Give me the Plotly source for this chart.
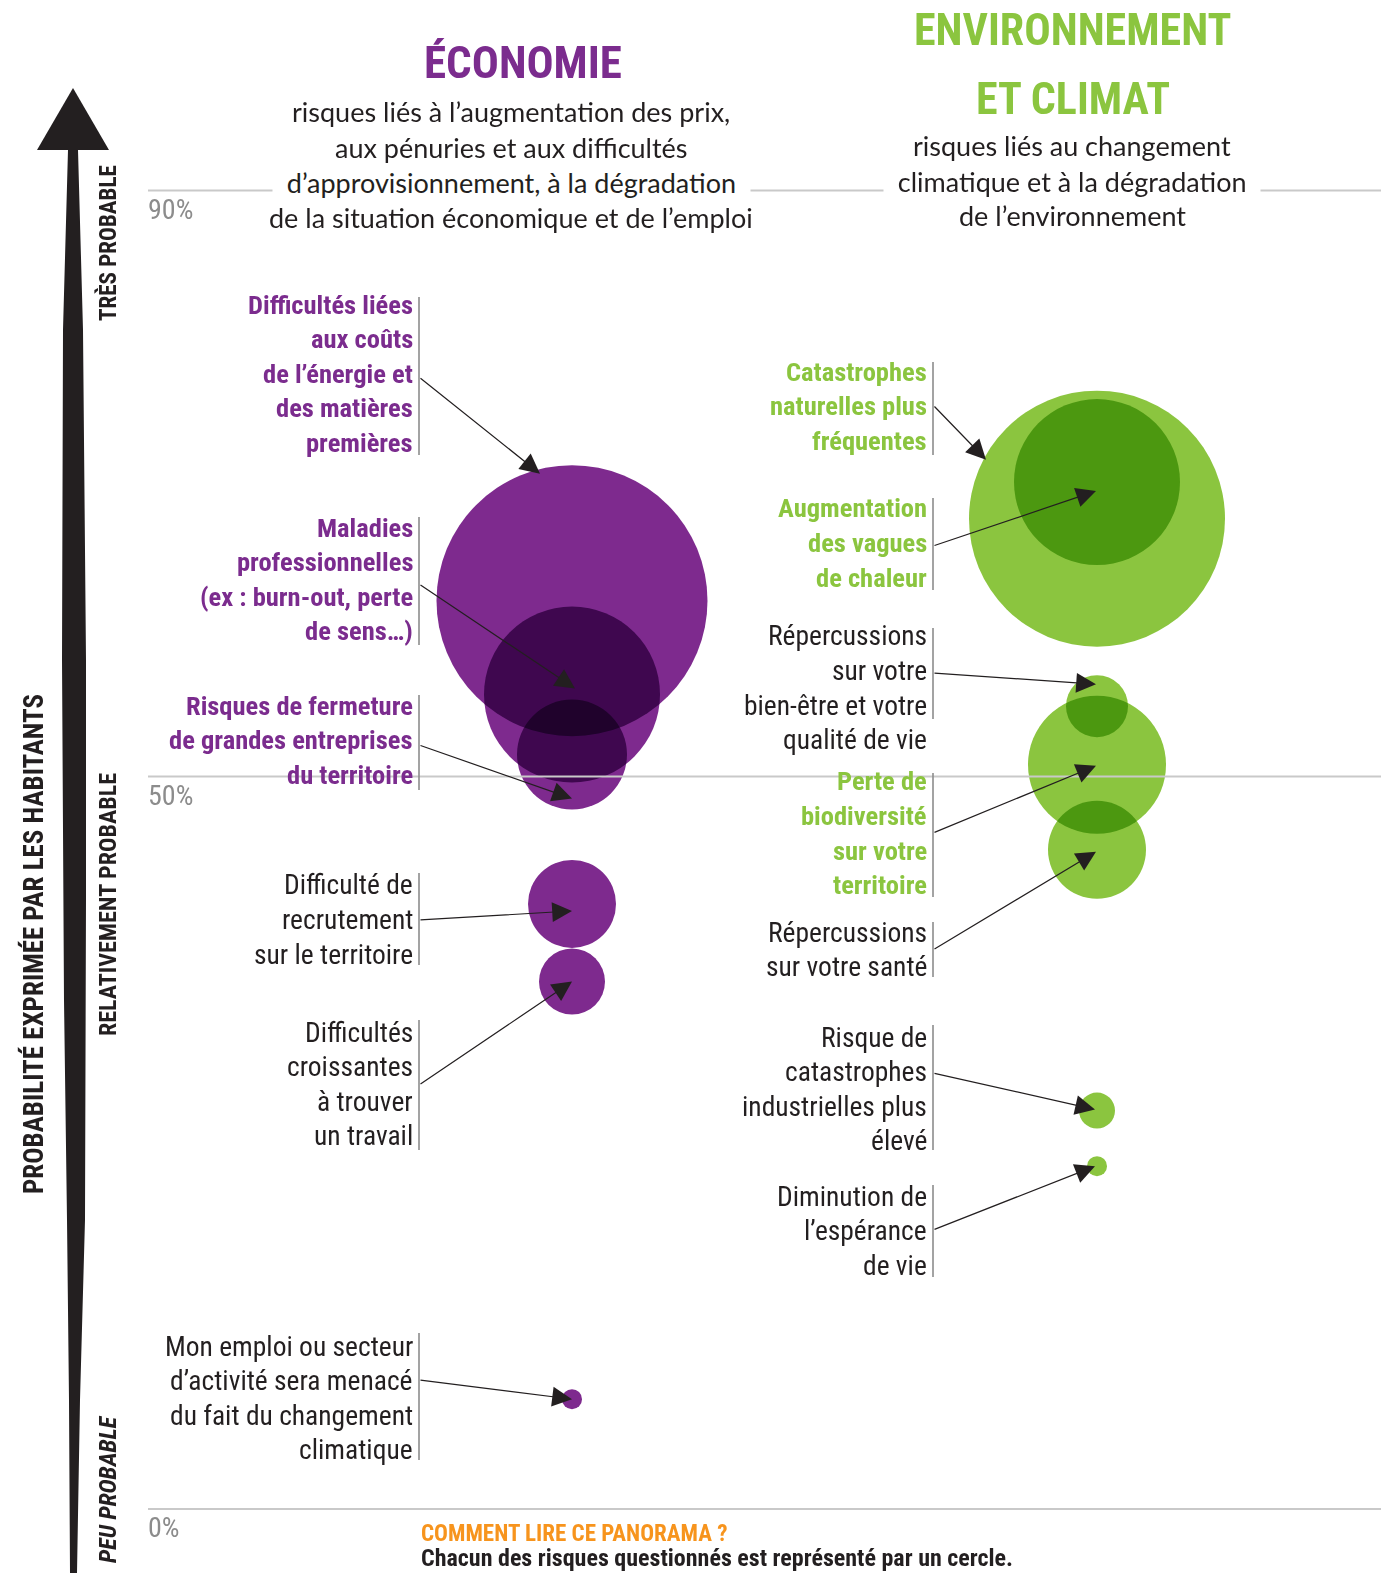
import plotly.graph_objects as go

# ---------------------------------------------------------------------------
# Données : probabilité exprimée (%) et poids (diamètre du cercle)
# ---------------------------------------------------------------------------
risques_eco = [
    "Difficultés liées aux coûts de l’énergie et des matières premières",
    "Maladies professionnelles (ex : burn-out, perte de sens…)",
    "Risques de fermeture de grandes entreprises du territoire",
    "Difficulté de recrutement sur le territoire",
    "Difficultés croissantes à trouver un travail",
    "Mon emploi ou secteur d’activité sera menacé du fait du changement climatique",
]
proba_eco = [62.0, 55.6, 51.5, 41.3, 36.0, 7.5]
poids_eco = [271, 176, 110, 88, 66, 20]

risques_env = [
    "Catastrophes naturelles plus fréquentes",
    "Augmentation des vagues de chaleur",
    "Répercussions sur votre bien-être et votre qualité de vie",
    "Perte de biodiversité sur votre territoire",
    "Répercussions sur votre santé",
    "Risque de catastrophes industrielles plus élevé",
    "Diminution de l’espérance de vie",
]
proba_env = [67.6, 70.1, 54.8, 50.8, 45.0, 27.2, 23.4]
poids_env = [256, 166, 62, 138, 98, 36, 20]

paliers = [0, 50, 90]
paliers_txt = ["0%", "50%", "90%"]

# ---------------------------------------------------------------------------
# Mise en page
# ---------------------------------------------------------------------------
W, H = 1385, 1573
X_RANGE = [-572 / 525, (W - 572) / 525]
Y_RANGE = [(1509 - H) / 14.65, 1509 / 14.65]

VIOLET = "#7E2A8E"
VIOLET_TXT = "#7B2C8E"
VERT = "#8BC53F"
NOIR = "#231F20"
GRIS = "#8C8C8C"
GRILLE = "#C9C9C9"
ORANGE = "#F7941D"

COND = "'Liberation Sans Narrow', 'Roboto Condensed', 'DejaVu Sans Condensed', 'Arial Narrow', sans-serif"
SANS = "Lato, 'Open Sans', sans-serif"
NBSP = "\u00a0"


def px(xp):
    return xp / W


def py(yp):
    return 1 - yp / H


def data_x(xp):
    return X_RANGE[0] + xp / W * (X_RANGE[1] - X_RANGE[0])


def data_y(yp):
    return Y_RANGE[1] - yp / H * (Y_RANGE[1] - Y_RANGE[0])


def decal_x(d):
    return d * (X_RANGE[1] - X_RANGE[0]) / W


def decal_y(d):
    return -d * (Y_RANGE[1] - Y_RANGE[0]) / H


# libellés : lignes, mise en avant, 1re ligne (px), barre (px), départ flèche (px),
# décalage de la pointe par rapport au centre du cercle (px)
lib_eco = [
    (["Difficultés liées", "aux coûts", "de l’énergie et", "des matières", "premières"], True, 304, (297, 455), 377, (-32, -127)),
    (["Maladies", "professionnelles", "(ex : burn-out, perte", "de sens…)"], True, 527, (517, 645), 584, (3, -6)),
    (["Risques de fermeture", "de grandes entreprises", "du territoire"], True, 705, (695, 790), 745, (0, 44)),
    (["Difficulté de", "recrutement", "sur le territoire"], False, 885, (873, 965), 920, (0, 7)),
    (["Difficultés", "croissantes", "à trouver", "un travail"], False, 1032, (1020, 1150), 1085, (0, 0)),
    (["Mon emploi ou secteur", "d’activité sera menacé", "du fait du changement", "climatique"], False, 1346, (1333, 1460), 1380, (0, 0)),
]
lib_env = [
    (["Catastrophes", "naturelles plus", "fréquentes"], True, 371, (362, 455), 405, (-111, -59)),
    (["Augmentation", "des vagues", "de chaleur"], True, 508, (498, 590), 546, (-1, 9)),
    (["Répercussions", "sur votre", "bien-être et votre", "qualité de vie"], False, 636, (628, 719), 673, (-1, -22)),
    (["Perte de", "biodiversité", "sur votre", "territoire"], True, 781, (773, 897), 833, (-1, 1)),
    (["Répercussions", "sur votre santé"], False, 932, (922, 977), 950, (-1, 2)),
    (["Risque de", "catastrophes", "industrielles plus", "élevé"], False, 1037, (1025, 1150), 1073, (-2, -1)),
    (["Diminution de", "l’espérance", "de vie"], False, 1196, (1185, 1277), 1230, (-2, 0)),
]

fig = go.Figure()

fig.add_trace(go.Scatter(
    x=[0] * len(proba_eco), y=proba_eco, mode="markers",
    marker=dict(size=poids_eco, sizemode="diameter", color=VIOLET, opacity=1, line=dict(width=0)),
    text=risques_eco, hoverinfo="skip",
))
fig.add_trace(go.Scatter(
    x=[1] * len(proba_env), y=proba_env, mode="markers",
    marker=dict(size=poids_env, sizemode="diameter", color=VERT, opacity=1, line=dict(width=0)),
    text=risques_env, hoverinfo="skip",
))

shapes = []
annotations = []

# lignes de repère
for v, t in zip(paliers, paliers_txt):
    shapes.append(dict(type="line", xref="paper", yref="y", x0=px(148), x1=px(1381), y0=v, y1=v,
                       line=dict(color=GRILLE, width=1.8), layer="above"))
    annotations.append(dict(text=t, xref="paper", yref="y", x=px(146), y=v, xanchor="left", yanchor="top",
                            yshift=0, showarrow=False,
                            font=dict(family=COND, size=28, color=GRIS)))

# grande flèche verticale
fleche = [(68, 150), (63, 330), (62, 660), (64, 1000), (67, 1220), (69, 1400), (70, 1573),
          (77, 1573), (80, 1400), (85, 1220), (86, 900), (86, 660), (83, 330), (78, 150)]
chemin = "M " + " L ".join(f"{px(a):.5f},{py(b):.5f}" for a, b in fleche) + " Z"
shapes.append(dict(type="path", xref="paper", yref="paper", path=chemin,
                   fillcolor=NOIR, line=dict(width=0)))
tete = [(37, 150), (73, 88), (109, 150)]
shapes.append(dict(type="path", xref="paper", yref="paper",
                   path="M " + " L ".join(f"{px(a):.5f},{py(b):.5f}" for a, b in tete) + " Z",
                   fillcolor=NOIR, line=dict(width=0)))

# textes verticaux
for txt, xc, yc, taille, ital in [
    ("PROBABILITÉ EXPRIMÉE PAR LES HABITANTS", 33, 944, 27, False),
    ("TRÈS PROBABLE", 108, 243, 23, False),
    ("RELATIVEMENT PROBABLE", 108, 905, 24, False),
    ("PEU PROBABLE", 108, 1489, 24, True),
]:
    annotations.append(dict(text=txt, xref="paper", yref="paper", x=px(xc), y=py(yc),
                            xanchor="center", yanchor="middle", textangle=-90, showarrow=False,
                            font=dict(family=COND, size=taille, color=NOIR, weight="bold",
                                      style="italic" if ital else "normal")))

# titres de colonnes
annotations.append(dict(text="ÉCONOMIE", xref="paper", yref="paper", x=px(523), y=py(62),
                        xanchor="center", yanchor="middle", showarrow=False,
                        font=dict(family=COND, size=45, color=VIOLET_TXT, weight="bold")))
annotations.append(dict(text="ENVIRONNEMENT", xref="paper", yref="paper", x=px(1072), y=py(30),
                        xanchor="center", yanchor="middle", showarrow=False,
                        font=dict(family=COND, size=44, color=VERT, weight="bold")))
annotations.append(dict(text="ET CLIMAT", xref="paper", yref="paper", x=px(1073), y=py(99),
                        xanchor="center", yanchor="middle", showarrow=False,
                        font=dict(family=COND, size=44, color=VERT, weight="bold")))

sous_eco = ["risques liés à l’augmentation des prix,", "aux pénuries et aux difficultés",
            "d’approvisionnement, à la dégradation", "de la situation économique et de l’emploi"]
sous_env = ["risques liés au changement", "climatique et à la dégradation", "de l’environnement"]
for lignes, xc, y0 in [(sous_eco, 511, 112), (sous_env, 1072, 146)]:
    for i, l in enumerate(lignes):
        yl = y0 + i * 35
        masque = abs(yl - 182) < 8
        # la ligne qui croise le repère 90 % porte un fond blanc, élargi par des espaces insécables
        annotations.append(dict(text=NBSP * 2 + l + NBSP * 2 if masque else l,
                                xref="paper", yref="paper", x=px(xc), y=py(yl),
                                xanchor="center", yanchor="middle", showarrow=False,
                                bgcolor="white" if masque else None, borderpad=0,
                                font=dict(family=SANS, size=27, color=NOIR)))

# libellés, barres et flèches
PAS = 34.6
for col, libs, xd, xb, couleur, probas in [
    (0, lib_eco, 415, 419, VIOLET_TXT, proba_eco),
    (1, lib_env, 929, 933, VERT, proba_env),
]:
    for (lignes, fort, y0, barre, queue, (dxp, dyp)), p in zip(libs, probas):
        for i, l in enumerate(lignes):
            annotations.append(dict(text=l, xref="paper", yref="paper", x=px(xd), y=py(y0 + i * PAS),
                                    xanchor="right", yanchor="middle", showarrow=False,
                                    font=dict(family=COND, size=26.5 if fort else 27.5,
                                              color=couleur if fort else NOIR,
                                              weight="bold" if fort else "normal")))
        shapes.append(dict(type="line", xref="paper", yref="paper", x0=px(xb), x1=px(xb),
                           y0=py(barre[0]), y1=py(barre[1]), line=dict(color=GRIS, width=1.6)))
        annotations.append(dict(text="", xref="x", yref="y",
                                x=col + decal_x(dxp), y=p + decal_y(dyp),
                                axref="x", ayref="y", ax=data_x(xb), ay=data_y(queue),
                                showarrow=True, arrowhead=2, arrowsize=3.3, arrowwidth=1.2,
                                arrowcolor=NOIR))

# mode d'emploi
annotations.append(dict(text="COMMENT LIRE CE PANORAMA ?", xref="paper", yref="paper", x=px(419), y=py(1533),
                        xanchor="left", yanchor="middle", showarrow=False,
                        font=dict(family=COND, size=23, color=ORANGE, weight="bold")))
annotations.append(dict(text="Chacun des risques questionnés est représenté par un cercle.",
                        xref="paper", yref="paper", x=px(419), y=py(1558),
                        xanchor="left", yanchor="middle", showarrow=False,
                        font=dict(family=COND, size=24, color=NOIR, weight="bold")))

fig.update_layout(
    width=W, height=H, margin=dict(l=0, r=0, t=0, b=0, pad=0),
    paper_bgcolor="white", plot_bgcolor="white", showlegend=False,
    xaxis=dict(range=X_RANGE, visible=False, fixedrange=True),
    yaxis=dict(range=Y_RANGE, visible=False, fixedrange=True),
    shapes=shapes, annotations=annotations,
)

# superposition des cercles en mode « produit »
melange = """
var s = document.createElement('style');
s.textContent = '.scatterlayer path.point { mix-blend-mode: multiply; }';
document.head.appendChild(s);
"""
fig.write_html("out.html", post_script=melange, config={"displayModeBar": False})
